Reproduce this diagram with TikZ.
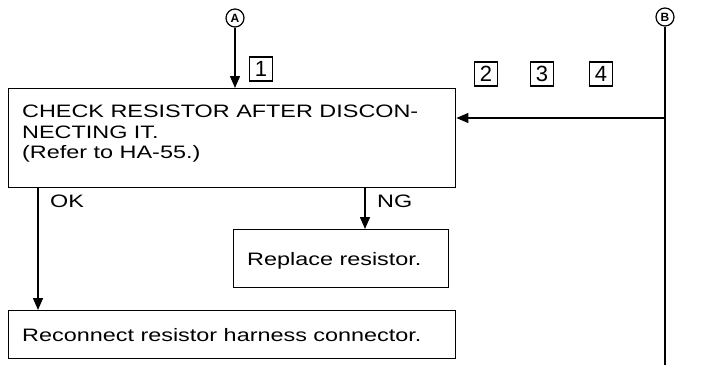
\documentclass[tikz,border=0pt]{standalone}
\usepackage{fontspec}
\setmainfont{Liberation Sans}
\newfontfamily\widefont[FakeStretch=1.3]{Liberation Sans}
\usetikzlibrary{arrows.meta}
\begin{document}
\begin{tikzpicture}[x=1pt,y=-1pt,
  every node/.style={inner sep=0pt},
  box/.style={draw,line width=1.4pt,anchor=north west},
  numbox/.style={draw,line width=1.3pt,minimum width=23pt,minimum height=24pt,font=\fontsize{22}{22}\selectfont},
  circ/.style={draw,circle,line width=1.2pt,minimum size=18pt,font=\fontsize{12}{12}\selectfont\bfseries},
  txt/.style={font=\widefont\fontsize{18}{20.5}\selectfont},
  conn/.style={line width=1.4pt,-{Triangle[width=10pt,length=12pt]}},
  plain/.style={line width=1.4pt}]
\useasboundingbox (0,0) rectangle (702,370);
\node[box,minimum width=447pt,minimum height=99pt] (check) at (8,88) {};
\node[txt,anchor=north west,align=left] (checkt) at (22,105) {CHECK RESISTOR AFTER DISCON-\\NECTING IT.\\(Refer to HA-55.)};
\node[box,minimum width=215pt,minimum height=58pt] (repl) at (233,229) {};
\node[txt,anchor=base west] (replt) at (247,265) {Replace resistor.};
\node[box,minimum width=447pt,minimum height=48pt] (reco) at (8,310) {};
\node[txt,anchor=base west] (recot) at (22,341) {Reconnect resistor harness connector.};
\node[circ] (A) at (235,18) {A};
\node[circ] (B) at (665,17) {B};
\node[numbox] (n1) at (261,69) {1};
\node[numbox] (n2) at (486,74) {2};
\node[numbox] (n3) at (542,74) {3};
\node[numbox] (n4) at (601,74) {4};
\coordinate (bend) at (665,365);
\coordinate (bj) at (665,118);
\draw[plain] (B) -- (bend);
\draw[conn] (bj) -- (check.east |- bj);
\draw[conn] (A) -- (A |- check.north);
\coordinate (okst) at (38,187);
\draw[conn] (okst) -- (okst |- reco.north);
\coordinate (ngst) at (365,187);
\draw[conn] (ngst) -- (ngst |- repl.north);
\node[txt,anchor=base west] (ok) at (50,207) {OK};
\node[txt,anchor=base west] (ng) at (377,207) {NG};
\end{tikzpicture}
\end{document}
